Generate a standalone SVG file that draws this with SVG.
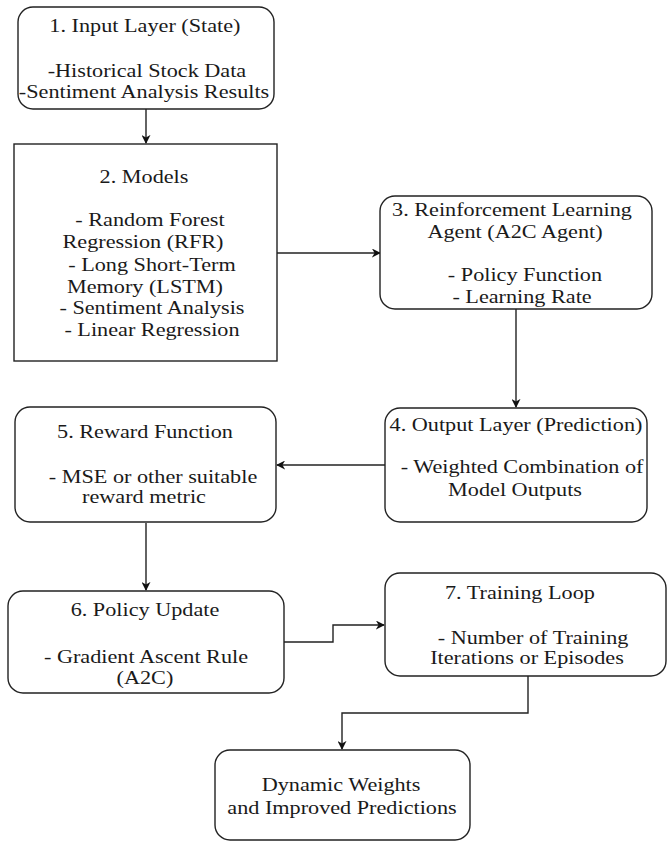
<svg xmlns="http://www.w3.org/2000/svg" width="670" height="842" viewBox="0 0 670 842">
<style>
.box{fill:#fff;stroke:#222;stroke-width:1.4}
.t{font-family:"Liberation Serif","Times New Roman",serif;font-size:19px;fill:#1a1a1a;text-anchor:middle}
.c{fill:none;stroke:#222;stroke-width:1.4}
</style>
<defs>
<marker id="ah" viewBox="0 0 10 10" refX="9" refY="5" markerWidth="9" markerHeight="9" markerUnits="userSpaceOnUse" orient="auto">
<path d="M0,0 L10,5 L0,10 L3,5 Z" fill="#111"/>
</marker>
</defs>
<rect width="670" height="842" fill="#fff"/>
<g id="connectors">
<line class="c" x1="146" y1="109" x2="146" y2="143" marker-end="url(#ah)"/>
<line class="c" x1="277" y1="253" x2="380" y2="253" marker-end="url(#ah)"/>
<line class="c" x1="516" y1="309" x2="516" y2="407" marker-end="url(#ah)"/>
<line class="c" x1="385" y1="465" x2="277" y2="465" marker-end="url(#ah)"/>
<line class="c" x1="146" y1="523" x2="146" y2="590" marker-end="url(#ah)"/>
<polyline class="c" points="284,642 333,642 333,625 384,625" marker-end="url(#ah)"/>
<polyline class="c" points="528,676 528,713 342,713 342,749" marker-end="url(#ah)"/>
</g>
<g id="n1">
<rect class="box" x="18" y="7" width="256" height="102" rx="15"/>
<g transform="scale(1.17,1)">
<text class="t" x="123.9" y="32">1. Input Layer (State)</text>
<text class="t" x="125.6" y="77">-Historical Stock Data</text>
<text class="t" x="123.1" y="98">-Sentiment Analysis Results</text>
</g>
</g>
<g id="n2">
<rect class="box" x="14" y="144" width="263" height="217"/>
<g transform="scale(1.17,1)">
<text class="t" x="123.1" y="183">2. Models</text>
<text class="t" x="128.2" y="226">- Random Forest</text>
<text class="t" x="122.2" y="248">Regression (RFR)</text>
<text class="t" x="129.9" y="271">- Long Short-Term</text>
<text class="t" x="123.9" y="293">Memory (LSTM)</text>
<text class="t" x="129.9" y="314">- Sentiment Analysis</text>
<text class="t" x="129.9" y="336">- Linear Regression</text>
</g>
</g>
<g id="n3">
<rect class="box" x="380" y="196" width="272" height="113" rx="15"/>
<g transform="scale(1.17,1)">
<text class="t" x="437.6" y="216">3. Reinforcement Learning</text>
<text class="t" x="440.2" y="238">Agent (A2C Agent)</text>
<text class="t" x="448.7" y="281">- Policy Function</text>
<text class="t" x="446.2" y="303">- Learning Rate</text>
</g>
</g>
<g id="n4">
<rect class="box" x="385" y="408" width="262" height="114" rx="15"/>
<g transform="scale(1.17,1)">
<text class="t" x="441.0" y="431">4. Output Layer (Prediction)</text>
<text class="t" x="446.2" y="473">- Weighted Combination of</text>
<text class="t" x="440.2" y="496">Model Outputs</text>
</g>
</g>
<g id="n5">
<rect class="box" x="15" y="407" width="261" height="115" rx="15"/>
<g transform="scale(1.17,1)">
<text class="t" x="123.9" y="438">5. Reward Function</text>
<text class="t" x="130.8" y="483">- MSE or other suitable</text>
<text class="t" x="123.1" y="503">reward metric</text>
</g>
</g>
<g id="n6">
<rect class="box" x="8" y="591" width="276" height="102" rx="15"/>
<g transform="scale(1.17,1)">
<text class="t" x="123.9" y="616">6. Policy Update</text>
<text class="t" x="124.8" y="663">- Gradient Ascent Rule</text>
<text class="t" x="123.9" y="684">(A2C)</text>
</g>
</g>
<g id="n7">
<rect class="box" x="385" y="573" width="281" height="103" rx="15"/>
<g transform="scale(1.17,1)">
<text class="t" x="444.4" y="599">7. Training Loop</text>
<text class="t" x="455.6" y="644">- Number of Training</text>
<text class="t" x="450.4" y="664">Iterations or Episodes</text>
</g>
</g>
<g id="n8">
<rect class="box" x="215" y="750" width="255" height="90" rx="15"/>
<g transform="scale(1.17,1)">
<text class="t" x="291.5" y="791">Dynamic Weights</text>
<text class="t" x="292.3" y="814">and Improved Predictions</text>
</g>
</g>
</svg>
